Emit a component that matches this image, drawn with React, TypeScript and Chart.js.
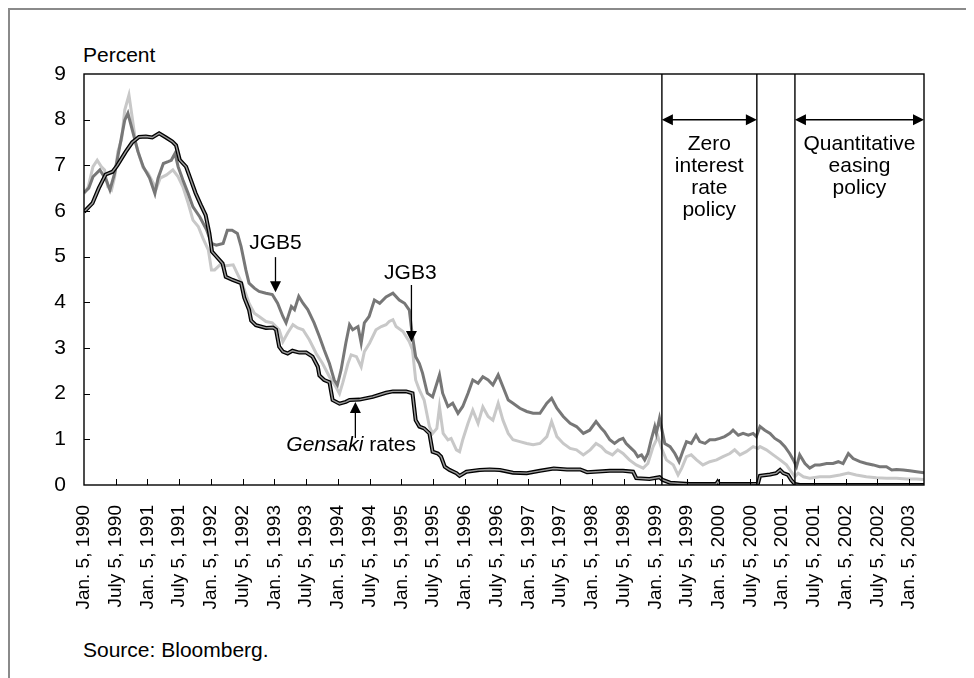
import React, { useEffect, useRef } from "react";
import { Chart, registerables } from "chart.js";
Chart.register(...registerables);

const FONT = '"Liberation Sans", Arial, Helvetica, sans-serif';

// x values are months counted from Jan. 5, 1990
const X_MAX = 158.8;
const tickMonths = [0, 6, 12, 18, 24, 30, 36, 42, 48, 54, 60, 66, 72, 78, 84, 90, 96, 102, 108, 114, 120, 126, 132, 138, 144, 150, 156];
const tickLabels = [
  "Jan. 5, 1990", "July 5, 1990", "Jan. 5, 1991", "July 5, 1991", "Jan. 5, 1992", "July 5, 1992",
  "Jan. 5, 1993", "July 5, 1993", "Jan. 5, 1994", "July 5, 1994", "Jan. 5, 1995", "July 5, 1995",
  "Jan. 5, 1996", "July 5, 1996", "Jan. 5, 1997", "July 5, 1997", "Jan. 5, 1998", "July 5, 1998",
  "Jan. 5, 1999", "July 5, 1999", "Jan. 5, 2000", "July 5, 2000", "Jan. 5, 2001", "July 5, 2001",
  "Jan. 5, 2002", "July 5, 2002", "Jan. 5, 2003",
];

const jgb3: [number, number][] = [
  [0, 6.38], [0.8, 6.53], [1.7, 6.97], [2.5, 7.11], [3.3, 6.97], [3.9, 6.9], [4.5, 6.53], [5.2, 6.46], [5.8, 6.75],
  [6.4, 7.3], [7.1, 7.56], [7.7, 8.21], [8.5, 8.54], [9.1, 8.06], [9.8, 7.48], [10.5, 7.19], [11.2, 6.94], [12.1, 6.83],
  [13.1, 6.61], [13.7, 6.5], [14.4, 6.72], [15.6, 6.79], [16.8, 6.9], [17.8, 6.75], [18.7, 6.53], [19.7, 6.17], [20.6, 5.8],
  [21.6, 5.66], [22.5, 5.4], [23.5, 5.15], [24.1, 4.71], [24.7, 4.71], [25.7, 4.82], [26.9, 4.8], [28.2, 4.82], [29.1, 4.6],
  [30.0, 4.38], [31.2, 3.98], [32.2, 3.76], [33.1, 3.69], [34.4, 3.58], [35.6, 3.55], [36.9, 3.4], [37.6, 3.14], [38.5, 3.33],
  [39.5, 3.51], [40.4, 3.44], [41.4, 3.4], [42.6, 3.18], [43.9, 2.88], [45.1, 2.66], [46.4, 2.37], [47.6, 2.15], [48.3, 2.0],
  [48.9, 2.23], [49.9, 2.66], [50.5, 2.85], [51.5, 2.81], [52.4, 2.59], [53, 2.92], [54, 3.11], [55.2, 3.4], [56.2, 3.47],
  [57.1, 3.51], [57.7, 3.58], [58.4, 3.62], [59, 3.47], [60.3, 3.36], [61.5, 3.14], [62.1, 2.96], [62.7, 2.3], [63.4, 2.08],
  [64.3, 1.86], [65.3, 1.28], [65.9, 1.13], [66.7, 1.24], [67.2, 1.71], [67.9, 1.13], [68.8, 0.99], [69.4, 1.02], [70.4, 0.77],
  [71, 0.73], [71.6, 0.99], [72.6, 1.35], [73.5, 1.64], [74.5, 1.35], [75.4, 1.71], [76.4, 1.5], [77.3, 1.42], [78.3, 1.79],
  [79.2, 1.42], [80.2, 1.13], [81.1, 0.99], [82.4, 0.95], [83.7, 0.91], [84.9, 0.88], [86.2, 0.91], [87.5, 1.06], [88.4, 1.39],
  [89.4, 1.06], [90.6, 0.91], [91.9, 0.8], [93.1, 0.77], [94.4, 0.66], [95.7, 0.77], [96.8, 0.91], [97.8, 0.84], [98.7, 0.73],
  [99.9, 0.66], [100.9, 0.77], [101.9, 0.69], [103.1, 0.55], [104.4, 0.44], [105.7, 0.37], [106.6, 0.47], [107.6, 0.84],
  [108.5, 1.06], [109.2, 0.8], [110.1, 0.55], [111.4, 0.44], [112.3, 0.22], [113, 0.37], [113.9, 0.62], [114.8, 0.66],
  [115.8, 0.55], [117, 0.44], [118.3, 0.51], [119.6, 0.55], [120.8, 0.62], [122.1, 0.69], [123, 0.77], [124, 0.66],
  [125.2, 0.73], [126.5, 0.84], [127.4, 0.8], [127.8, 0.84], [129, 0.77], [130.3, 0.66], [131.6, 0.55], [132.8, 0.44],
  [133.7, 0.29], [134.4, 0.18], [135, 0.26], [136, 0.18], [137.2, 0.15], [139.1, 0.18], [141, 0.18], [142.9, 0.22],
  [144.5, 0.26], [146, 0.22], [147.9, 0.18], [149.8, 0.16], [151.7, 0.15], [153.6, 0.15], [155.5, 0.13], [157.4, 0.13], [158.8, 0.12],
];

const jgb5: [number, number][] = [
  [0, 6.4], [0.9, 6.5], [1.7, 6.75], [3, 6.9], [4.2, 6.68], [4.9, 6.46], [5.8, 6.83], [6.75, 7.41], [7.7, 7.99], [8.3, 8.14],
  [9.3, 7.7], [10.2, 7.3], [11.2, 6.97], [12.4, 6.72], [13.4, 6.38], [14, 6.72], [15, 7.04], [15.9, 7.08], [16.5, 7.11],
  [17.2, 7.26], [17.8, 6.97], [18.7, 6.68], [19.7, 6.38], [20.6, 6.09], [21.9, 5.87], [23.2, 5.58], [24.1, 5.29], [25, 5.25],
  [26.3, 5.29], [27.1, 5.58], [28, 5.58], [29, 5.51], [29.7, 5.22], [30.6, 4.71], [31.2, 4.42], [32.2, 4.31], [33.1, 4.24],
  [34.4, 4.2], [35.6, 4.17], [36.6, 3.98], [37.6, 3.69], [38.2, 3.55], [39.2, 3.91], [39.8, 3.84], [40.6, 4.13], [41.4, 3.98],
  [42.3, 3.84], [43.5, 3.55], [44.5, 3.25], [45.4, 2.96], [46.4, 2.66], [47.3, 2.3], [47.9, 2.19], [48.6, 2.52], [49.5, 3.11],
  [50.2, 3.51], [50.8, 3.4], [51.8, 3.47], [52.4, 3.11], [53, 3.55], [53.9, 3.69], [54.9, 4.05], [55.9, 3.98], [57.1, 4.12],
  [58.4, 4.2], [59.6, 4.05], [60.6, 3.98], [61.5, 3.83], [62.1, 3.25], [62.7, 2.81], [63.4, 2.66], [64, 2.45], [64.9, 2.01],
  [65.9, 1.93], [67.2, 2.41], [67.8, 2.01], [68.8, 1.72], [69.7, 1.79], [70.7, 1.57], [71.6, 1.72], [72.6, 2.01], [73.5, 2.3],
  [74.5, 2.23], [75.4, 2.37], [76.4, 2.3], [77.3, 2.19], [78.3, 2.41], [79.2, 2.15], [80.2, 1.86], [81.1, 1.79], [82.4, 1.68],
  [83.7, 1.61], [84.9, 1.57], [86.2, 1.57], [87.5, 1.79], [88.4, 1.9], [89.4, 1.68], [90.6, 1.5], [91.9, 1.35], [93.1, 1.28],
  [94.4, 1.13], [95.6, 1.2], [96.8, 1.39], [97.8, 1.24], [98.4, 1.17], [99.4, 0.99], [100.3, 0.91], [101.2, 0.99], [101.9, 1.02],
  [102.5, 0.91], [103.1, 0.84], [104.1, 0.73], [104.7, 0.62], [105.4, 0.66], [106, 0.55], [106.6, 0.69], [107.2, 0.98],
  [107.9, 1.28], [108.2, 1.13], [108.8, 1.46], [109.2, 1.24], [109.8, 0.91], [110.8, 0.84], [111.7, 0.69], [112.5, 0.51],
  [113.3, 0.77], [113.9, 0.95], [114.8, 0.91], [115.7, 1.09], [116.4, 0.95], [117.4, 0.91], [118.3, 0.99], [119.3, 0.99],
  [120.2, 1.02], [121.1, 1.06], [122.1, 1.13], [122.7, 1.2], [123.7, 1.09], [124.6, 1.13], [125.6, 1.09], [126.5, 1.13],
  [127.1, 1.06], [127.8, 1.28], [128.7, 1.2], [129.7, 1.13], [130.6, 1.02], [131.6, 0.95], [132.5, 0.84], [133.4, 0.69],
  [134.1, 0.55], [134.7, 0.4], [135.3, 0.66], [136.3, 0.47], [137.2, 0.37], [138.2, 0.44], [139.1, 0.44], [140.4, 0.47],
  [141.6, 0.47], [142.6, 0.51], [143.5, 0.47], [144.5, 0.69], [145.4, 0.58], [146.7, 0.51], [147.9, 0.47], [149.2, 0.44],
  [150.4, 0.4], [151.7, 0.4], [152.7, 0.33], [153.6, 0.34], [154.9, 0.33], [156.1, 0.31], [157.4, 0.29], [158.8, 0.27],
];

const gensaki: [number, number][] = [
  [0, 5.98], [1.6, 6.17], [2.8, 6.5], [4.1, 6.8], [5.4, 6.86], [6.3, 7.0], [7.9, 7.3], [9.1, 7.5], [10.4, 7.62], [11.7, 7.63],
  [12.9, 7.61], [14.2, 7.7], [15.5, 7.61], [16.7, 7.52], [17.4, 7.44], [18.1, 7.12], [19.3, 6.97], [20.2, 6.68], [21.1, 6.39],
  [22.1, 6.13], [23, 5.91], [23.7, 5.51], [24.2, 5.11], [24.9, 5.02], [26.2, 4.85], [26.8, 4.56], [28.1, 4.49], [29.7, 4.42],
  [30.3, 4.1], [31.2, 3.84], [31.6, 3.6], [32.5, 3.5], [34.4, 3.44], [35.7, 3.45], [36.3, 3.4], [36.9, 3.03], [37.6, 2.92],
  [38.5, 2.88], [39.4, 2.94], [40.7, 2.9], [42, 2.9], [43.2, 2.81], [44.2, 2.59], [44.5, 2.4], [45.4, 2.3], [46.4, 2.25],
  [47, 1.86], [48.3, 1.78], [49.5, 1.82], [50.2, 1.86], [52.1, 1.87], [54.6, 1.93], [57.1, 2.02], [58.4, 2.05], [60.9, 2.05],
  [62.1, 2.01], [62.7, 1.42], [63.4, 1.28], [64.3, 1.24], [65.3, 1.13], [65.9, 0.73], [66.9, 0.69], [67.5, 0.62], [68.2, 0.4],
  [69.1, 0.33], [70.4, 0.26], [71, 0.2], [72.3, 0.29], [74.8, 0.33], [76.7, 0.34], [78.6, 0.33], [81.1, 0.27], [83.7, 0.26],
  [86.2, 0.31], [88.8, 0.36], [91.3, 0.34], [93.8, 0.34], [95.1, 0.28], [99.4, 0.31], [101.9, 0.31], [103.8, 0.29],
  [104.4, 0.15], [106.9, 0.13], [108.8, 0.17], [109.4, 0.11], [110.8, 0.05], [114.5, 0.02], [119.5, 0.02], [119.8, 0.07],
  [120.1, 0.02], [125.9, 0.02], [127.4, 0.03], [127.8, 0.2], [129.7, 0.23], [130.9, 0.26], [131.6, 0.33], [132.2, 0.26],
  [133.1, 0.22], [133.7, 0.11], [134.4, 0.02], [135.3, 0.0], [158.8, 0.0],
];

// policy period boundaries (months from Jan. 5, 1990)
const policyLines = [109.25, 127.2, 134.4];
const policyArrows = [
  { from: 109.25, to: 127.2, y: 8.0 },
  { from: 134.4, to: X_MAX, y: 8.0 },
];
const policyTexts = [
  { x: 118.2, y: 7.47, lines: ["Zero", "interest", "rate", "policy"] },
  { x: 146.6, y: 7.47, lines: ["Quantitative", "easing", "policy"] },
];
const seriesNotes = [
  { text: "JGB5", italic: "", x: 36.2, textY: 5.3, arrowX: 36.2, from: 4.99, to: 4.22 },
  { text: "JGB3", italic: "", x: 61.7, textY: 4.64, arrowX: 61.9, from: 4.38, to: 3.13 },
  { text: " rates", italic: "Gensaki", x: 50.5, textY: 0.88, arrowX: 51.3, from: 1.03, to: 1.82 },
];

function arrowHead(ctx: CanvasRenderingContext2D, tx: number, ty: number, dx: number, dy: number) {
  const len = 11, half = 5.5;
  const bx = tx - dx * len, by = ty - dy * len;
  ctx.beginPath();
  ctx.moveTo(tx, ty);
  ctx.lineTo(bx - dy * half, by + dx * half);
  ctx.lineTo(bx + dy * half, by - dx * half);
  ctx.closePath();
  ctx.fill();
}

const overlay = {
  id: "overlay",
  afterDatasetsDraw(chart: any) {
    const { ctx, chartArea: a, scales } = chart;
    const xs = scales.x, ys = scales.y;
    ctx.save();
    ctx.strokeStyle = "#000";
    ctx.fillStyle = "#000";
    ctx.lineWidth = 1;
    ctx.beginPath();
    for (const m of tickMonths) {
      if (m === 0) continue;
      const px = Math.round(xs.getPixelForValue(m)) + 0.5;
      ctx.moveTo(px, a.bottom);
      ctx.lineTo(px, a.bottom - 6);
    }
    ys.ticks.forEach((t: any) => {
      if (t.value <= 0 || t.value >= 9) return;
      const py = Math.round(ys.getPixelForValue(t.value)) + 0.5;
      ctx.moveTo(a.left, py);
      ctx.lineTo(a.left + 6, py);
    });
    ctx.stroke();

    ctx.lineWidth = 1.4;
    ctx.strokeRect(a.left, a.top, a.right - a.left, a.bottom - a.top);
    ctx.beginPath();
    for (const m of policyLines) {
      const px = xs.getPixelForValue(m);
      ctx.moveTo(px, a.top);
      ctx.lineTo(px, a.bottom);
    }
    ctx.stroke();

    ctx.lineWidth = 1.5;
    for (const ar of policyArrows) {
      const x1 = xs.getPixelForValue(ar.from), x2 = xs.getPixelForValue(ar.to);
      const py = ys.getPixelForValue(ar.y);
      ctx.beginPath();
      ctx.moveTo(x1 + 6, py);
      ctx.lineTo(x2 - 6, py);
      ctx.stroke();
      arrowHead(ctx, x1, py, -1, 0);
      arrowHead(ctx, x2, py, 1, 0);
    }

    ctx.textAlign = "center";
    ctx.textBaseline = "middle";
    ctx.font = `21px ${FONT}`;
    for (const t of policyTexts) {
      const px = xs.getPixelForValue(t.x);
      const py = ys.getPixelForValue(t.y);
      t.lines.forEach((line, i) => ctx.fillText(line, px, py + i * 22));
    }

    for (const n of seriesNotes) {
      const ax = xs.getPixelForValue(n.arrowX);
      const y1 = ys.getPixelForValue(n.from), y2 = ys.getPixelForValue(n.to);
      const dir = y2 > y1 ? 1 : -1;
      ctx.lineWidth = 1.3;
      ctx.beginPath();
      ctx.moveTo(ax, y1);
      ctx.lineTo(ax, y2 - dir * 6);
      ctx.stroke();
      arrowHead(ctx, ax, y2, 0, dir);

      const cx = xs.getPixelForValue(n.x), cy = ys.getPixelForValue(n.textY);
      ctx.font = `italic 21px ${FONT}`;
      const wi = n.italic ? ctx.measureText(n.italic).width : 0;
      ctx.font = `21px ${FONT}`;
      const wn = ctx.measureText(n.text).width;
      let sx = cx - (wi + wn) / 2;
      ctx.textAlign = "left";
      if (n.italic) {
        ctx.font = `italic 21px ${FONT}`;
        ctx.fillText(n.italic, sx, cy);
        sx += wi;
      }
      ctx.font = `21px ${FONT}`;
      ctx.fillText(n.text, sx, cy);
      ctx.textAlign = "center";
    }
    ctx.restore();
  },
};

const pts = (arr: [number, number][]) => arr.map(([x, y]) => ({ x, y }));

export default function App() {
  const ref = useRef<HTMLCanvasElement | null>(null);
  useEffect(() => {
    if (!ref.current) return;
    const chart = new Chart(ref.current, {
      type: "line",
      data: {
        datasets: [
          { label: "Gensaki inner", data: pts(gensaki), borderColor: "#9a9a9a", borderWidth: 1.4, pointRadius: 0, tension: 0, order: 1 },
          { label: "Gensaki rates", data: pts(gensaki), borderColor: "#000", borderWidth: 4, pointRadius: 0, tension: 0, order: 2 },
          { label: "JGB5", data: pts(jgb5), borderColor: "#777777", borderWidth: 3, pointRadius: 0, tension: 0, order: 3 },
          { label: "JGB3", data: pts(jgb3), borderColor: "#c8c8c8", borderWidth: 3, pointRadius: 0, tension: 0, order: 4 },
        ],
      },
      options: {
        animation: false,
        responsive: true,
        maintainAspectRatio: false,
        devicePixelRatio: 1,
        events: [],
        layout: { padding: { top: 64, right: 48, left: 0, bottom: 0 } },
        plugins: { legend: { display: false }, tooltip: { enabled: false }, title: { display: false } },
        scales: {
          x: {
            type: "linear",
            min: 0,
            max: X_MAX,
            grid: { display: false, drawTicks: false },
            border: { display: false },
            afterBuildTicks: (s: any) => { s.ticks = tickMonths.map((v) => ({ value: v })); },
            afterFit: (s: any) => { s.height = 130; },
            ticks: {
              autoSkip: false,
              minRotation: 90,
              maxRotation: 90,
              padding: 20,
              color: "#000",
              font: { family: FONT, size: 19 },
              callback: (_v: any, i: number) => tickLabels[i],
            },
          },
          y: {
            min: 0,
            max: 9,
            grid: { display: false, drawTicks: false },
            border: { display: false },
            afterFit: (s: any) => { s.width = 74; },
            ticks: { stepSize: 1, padding: 18, color: "#000", font: { family: FONT, size: 21 } },
          },
        },
      },
      plugins: [overlay],
    });
    return () => chart.destroy();
  }, []);

  return (
    <div style={{ position: "relative", width: 966, height: 690, boxSizing: "border-box", border: "2px solid #8a8a8a", fontFamily: FONT, color: "#000" }}>
      <div style={{ position: "absolute", left: 73, top: 33, fontSize: 21, lineHeight: "24px" }}>Percent</div>
      <div style={{ position: "absolute", left: 0, top: 0, width: 962, height: 605 }}>
        <canvas ref={ref} />
      </div>
      <div style={{ position: "absolute", left: 73, top: 628, fontSize: 21, lineHeight: "24px" }}>Source: Bloomberg.</div>
    </div>
  );
}
